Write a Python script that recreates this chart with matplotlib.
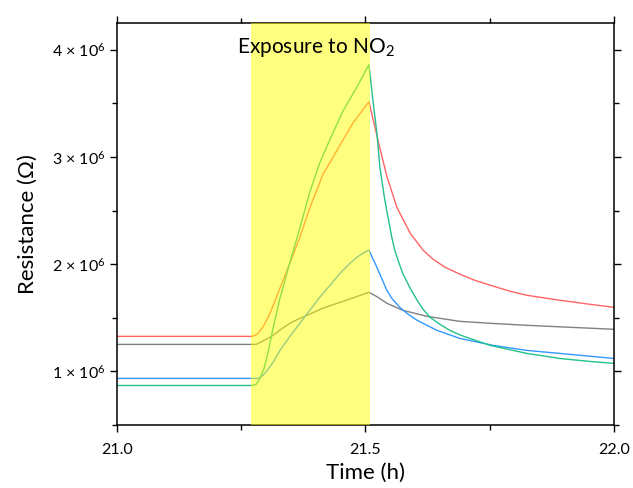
import matplotlib
matplotlib.use('Agg')
import matplotlib.pyplot as plt
from matplotlib.ticker import MultipleLocator, FixedLocator
import numpy as np

plt.rcParams['font.family'] = ['Lato', 'DejaVu Sans']
plt.rcParams['mathtext.fontset'] = 'custom'
plt.rcParams['mathtext.rm'] = 'Lato'
plt.rcParams['mathtext.it'] = 'Lato:italic'

# Data (time in h, resistance in units of 1e6 ohm)
red_t = [21.0, 21.272, 21.282, 21.292, 21.300, 21.308, 21.328, 21.348, 21.368, 21.388, 21.414, 21.449,
         21.475, 21.507, 21.519, 21.529, 21.543, 21.563, 21.590, 21.616, 21.636, 21.660, 21.690, 21.720,
         21.751, 21.791, 21.825, 21.891, 21.952, 22.0]
red_r = [1.327, 1.327, 1.346, 1.402, 1.467, 1.542, 1.776, 2.009, 2.252, 2.523, 2.832, 3.112,
         3.318, 3.514, 3.280, 3.084, 2.822, 2.533, 2.290, 2.131, 2.047, 1.972, 1.907, 1.850,
         1.804, 1.748, 1.710, 1.664, 1.626, 1.598]

green_t = [21.0, 21.272, 21.280, 21.288, 21.296, 21.304, 21.314, 21.328, 21.348, 21.368, 21.388, 21.408,
           21.429, 21.455, 21.483, 21.507, 21.515, 21.523, 21.529, 21.539, 21.553, 21.559, 21.567, 21.575,
           21.590, 21.604, 21.616, 21.630, 21.650, 21.670, 21.690, 21.710, 21.751, 21.825, 21.891, 21.952, 22.0]
green_r = [0.869, 0.869, 0.879, 0.935, 1.028, 1.178, 1.402, 1.682, 2.019, 2.336, 2.673, 2.944,
           3.168, 3.430, 3.654, 3.860, 3.533, 3.224, 2.907, 2.598, 2.252, 2.131, 2.019, 1.916,
           1.776, 1.664, 1.579, 1.505, 1.439, 1.383, 1.341, 1.308, 1.243, 1.168, 1.121, 1.093, 1.075]

blue_t = [21.0, 21.272, 21.284, 21.294, 21.302, 21.314, 21.328, 21.348, 21.368, 21.388, 21.408, 21.429,
          21.449, 21.469, 21.483, 21.495, 21.507, 21.523, 21.543, 21.553, 21.569, 21.586, 21.604, 21.644,
          21.690, 21.757, 21.825, 21.891, 22.0]
blue_r = [0.935, 0.935, 0.935, 0.963, 1.009, 1.084, 1.196, 1.327, 1.449, 1.570, 1.692, 1.804,
          1.916, 2.009, 2.065, 2.103, 2.131, 1.972, 1.757, 1.682, 1.598, 1.533, 1.477, 1.383,
          1.308, 1.243, 1.196, 1.168, 1.121]

gray_t = [21.0, 21.272, 21.280, 21.288, 21.300, 21.314, 21.330, 21.348, 21.364, 21.382, 21.414, 21.449,
          21.479, 21.507, 21.525, 21.543, 21.575, 21.624, 21.690, 21.751, 21.825, 22.0]
gray_r = [1.252, 1.252, 1.252, 1.271, 1.299, 1.336, 1.393, 1.449, 1.486, 1.523, 1.589, 1.645,
          1.692, 1.738, 1.692, 1.636, 1.570, 1.514, 1.467, 1.449, 1.430, 1.393]

exposure_start, exposure_end = 21.27, 21.509

fig = plt.figure(figsize=(6.33, 4.88), dpi=100)
ax = fig.add_axes([0.1848, 0.129, 0.785, 0.824])

series = [(red_t, red_r, '#ff6464'), (gray_t, gray_r, '#808080'),
          (blue_t, blue_r, '#3399ff'), (green_t, green_r, '#22c08c')]
for t, r, c in series:
    ax.plot(t, np.array(r) * 1e6, color=c, lw=1.0, zorder=2)

# yellow band drawn over the curves
ax.axvspan(exposure_start, exposure_end, color='#ffff00', alpha=0.5, lw=0, zorder=3)

ax.text(21.4, 4.02e6, 'Exposure to NO$_2$', ha='center', va='center', fontsize=15, zorder=4)

ax.set_xlim(21.0, 22.0)
ax.set_ylim(0.5e6, 4.25e6)
ax.set_xticks([21.0, 21.5, 22.0])
ax.set_xticklabels(['21.0', '21.5', '22.0'])
ax.xaxis.set_minor_locator(MultipleLocator(0.25))
ax.set_yticks([1e6, 2e6, 3e6, 4e6])
ax.set_yticklabels([r'1 × 10$^{6}$', r'2 × 10$^{6}$', r'3 × 10$^{6}$', r'4 × 10$^{6}$'])
ax.yaxis.set_minor_locator(FixedLocator([0.5e6, 1.5e6, 2.5e6, 3.5e6]))

ax.tick_params(which='both', direction='out', top=True, right=True, width=1.0, labelsize=11.5)
ax.tick_params(which='major', length=5)
ax.tick_params(which='minor', length=3.5)
ax.tick_params(axis='x', pad=8)
for s in ax.spines.values():
    s.set_linewidth(1.1)

ax.set_xlabel('Time (h)', fontsize=16, labelpad=4)
ax.set_ylabel('Resistance (Ω)', fontsize=16, labelpad=10)

fig.savefig('out.png', dpi=100, facecolor='white')
